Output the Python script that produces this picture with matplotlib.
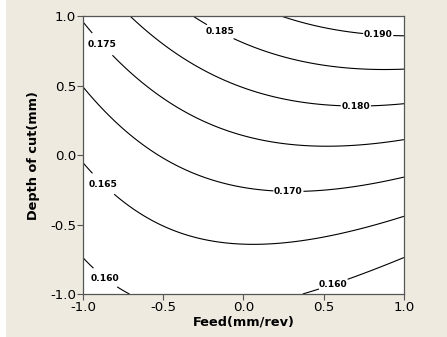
#!/usr/bin/env python3
"""Contour plot of the fitted response surface: feed vs depth of cut."""

import matplotlib

matplotlib.use("Agg")
import matplotlib.pyplot as plt
import numpy as np
from matplotlib.patches import Rectangle

plt.rcParams["axes.unicode_minus"] = False

# fitted second-order model (coded units)
INTERCEPT = 0.17307
COEF_FEED = 0.00372
COEF_DEPTH = 0.01355
COEF_FEED_SQ = -0.00389
COEF_DEPTH_SQ = 0.0015
COEF_FEED_DEPTH = 0.00505

LEVELS = [0.160, 0.165, 0.170, 0.175, 0.180, 0.185, 0.190]
TICKS = [-1.0, -0.5, 0.0, 0.5, 1.0]

# where the contour labels sit (data coords)
LABEL_POS = [
    (-0.86, -0.88),
    (0.56, -0.93),
    (-0.86, -0.19),
    (0.28, -0.25),
    (-0.86, 0.82),
    (0.70, 0.36),
    (-0.14, 0.90),
    (0.84, 0.87),
]

BEIGE = "#eeeae0"
SPINE = "#555555"


def response(x, y):
    return (INTERCEPT + COEF_FEED * x + COEF_DEPTH * y
            + COEF_FEED_SQ * x ** 2 + COEF_DEPTH_SQ * y ** 2
            + COEF_FEED_DEPTH * x * y)


def main():
    fig = plt.figure(figsize=(4.47, 3.37), dpi=100, facecolor="white")
    fig.patches.append(Rectangle((6 / 447, 0), 1, 1, transform=fig.transFigure,
                                 facecolor=BEIGE, edgecolor="none", zorder=-1))
    ax = fig.add_axes([0.1857, 0.1276, 0.718, 0.824])
    ax.set_facecolor("white")

    x = np.linspace(-1, 1, 201)
    y = np.linspace(-1, 1, 201)
    X, Y = np.meshgrid(x, y)
    Z = response(X, Y)

    cs = ax.contour(X, Y, Z, levels=LEVELS, colors="black", linewidths=0.8)
    labels = ax.clabel(cs, fmt="%.3f", fontsize=6.6, manual=LABEL_POS,
                       inline=True, inline_spacing=2)
    for t in labels:
        t.set_fontweight("bold")
        t.set_rotation(0)

    ax.set_xlim(-1, 1)
    ax.set_ylim(-1, 1)
    ax.set_xticks(TICKS)
    ax.set_yticks(TICKS)
    ax.tick_params(direction="out", length=4, width=0.8, color=SPINE,
                   labelsize=9.6, pad=1)
    for s in ax.spines.values():
        s.set_color(SPINE)
        s.set_linewidth(0.9)

    ax.set_xlabel("Feed(mm/rev)", fontsize=9.3, fontweight="bold", labelpad=1)
    ax.set_ylabel("Depth of cut(mm)", fontsize=9.3, fontweight="bold", labelpad=7)

    fig.savefig("out.png", dpi=100, facecolor=fig.get_facecolor())
    plt.close(fig)


if __name__ == "__main__":
    main()
